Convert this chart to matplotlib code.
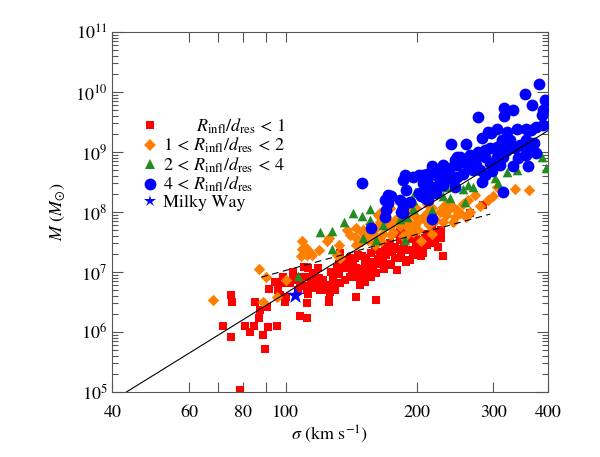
import matplotlib as mpl

mpl.use('Agg')

import matplotlib.pyplot as plt
import numpy as np
from matplotlib.ticker import FixedLocator, FixedFormatter, LogFormatterMathtext, NullFormatter
from matplotlib.lines import Line2D

# (sigma [km/s], log10 M [Msun])
red_pts = [
    (75, 6.62), (75.5, 6.50), (72, 6.10), (75, 5.91), (78.6, 5.03), (80.7, 6.10),
    (82.9, 6.00), (84.7, 6.10), (85.1, 6.50), (87, 6.23), (87.4, 6.37), (88.6, 5.95),
    (89.8, 5.72), (90.6, 6.42), (91, 6.09), (91.8, 6.71), (95.5, 6.10), (94.6, 6.84),
    (96.2, 6.70), (97.2, 6.62), (98.9, 6.92), (99.8, 6.50), (100.5, 6.59), (98, 6.81),
    (102.4, 6.81), (104, 6.87), (104, 7.00), (106.8, 6.70), (108, 6.81), (108, 6.27),
    (111.8, 6.48), (111, 6.92), (110, 7.09), (111.8, 6.23), (112.6, 6.64), (113.8, 6.76),
    (114.7, 6.87), (118.6, 6.73), (120, 6.70), (122, 6.81), (124.5, 6.70), (115.6, 6.98),
    (118.6, 7.06), (119.3, 6.90), (125.5, 6.50), (106.8, 6.92), (112.6, 7.06),
    (109, 6.76), (111.8, 6.70), (116.9, 6.73), (119.3, 6.84), (122, 6.87), (124.5, 6.78),
    (126.5, 6.67), (128.6, 6.84), (128.6, 6.95), (131, 7.06), (132.6, 7.14), (135, 7.09),
    (138.5, 7.06), (140.5, 7.14), (141.8, 7.00), (145.3, 7.06), (144.3, 6.92), (148.2, 6.98),
    (150.7, 6.87), (152, 6.84), (148.2, 6.78), (144.3, 7.23), (146.8, 7.28), (149.5, 7.26),
    (152, 7.14), (153.4, 7.23), (156, 7.17), (158.5, 7.09), (161.6, 6.98), (157.4, 7.31),
    (160.4, 7.37), (164.7, 7.34), (169, 7.42), (172, 7.37), (173.6, 7.48), (178.3, 7.42),
    (180, 7.64), (183, 7.53), (184.5, 7.31), (189.5, 7.37), (194.5, 7.37), (196, 7.28),
    (199.5, 7.45), (203, 7.39), (207, 7.31), (211, 7.48), (211, 7.64), (201, 7.53),
    (193, 7.20), (180, 7.03), (167.5, 7.20), (164.7, 7.14), (172, 7.14), (140.5, 6.92),
    (137, 6.87), (133.3, 6.81), (130, 6.70), (125.5, 6.53), (145.3, 6.59), (161.6, 6.53),
    (133.3, 7.31), (140.5, 7.23),
    (167.5, 7.31), (178.3, 7.23), (183, 7.23), (189.5, 7.17), (178.3, 7.39), (184.5, 7.39),
    (183, 7.64), (199.5, 7.37), (207, 7.34), (211, 7.45), (214, 7.48), (209, 7.56),
    (205, 7.26), (216, 7.59), (228, 7.59), (228, 7.70), (230, 7.26), (265, 7.98),
    (284, 8.12), (183, 7.67), (189.5, 7.20), (203, 7.48), (216, 7.48), (222, 7.67),
    (228, 7.56), (217, 7.73), (196, 7.62), (189.5, 7.67), (228, 7.64), (212, 7.51),
    (136, 7.20), (143, 7.12), (150, 7.05), (155, 7.00), (163, 7.22), (170, 7.28),
    (176, 7.33), (187, 7.47), (193, 7.55), (199, 7.60), (220, 7.55), (224, 7.42),
    (117, 6.95), (127, 7.00), (133, 6.96), (157, 6.92), (168, 7.05), (175, 7.12),
]

orange_pts = [
    (68.3, 6.53), (87, 7.05), (90, 6.91), (89, 6.50), (100.5, 6.87), (95.5, 6.59),
    (108.5, 7.26), (111, 7.42), (115, 7.28), (119.3, 7.37), (124.5, 7.51), (132.6, 7.45),
    (131, 7.28), (109, 7.51), (112.6, 7.37), (125.5, 7.56), (133.3, 7.23), (138.5, 7.70),
    (140.5, 7.62), (145.3, 7.73), (150.7, 7.70), (152, 7.62), (162.8, 7.95), (164.7, 7.84),
    (170.5, 7.92), (173.6, 7.76), (178.3, 7.87), (158.5, 7.53), (175, 7.62), (109, 7.39),
    (111.8, 7.28), (144.3, 7.59), (149.5, 7.67), (149.5, 7.51), (145.3, 7.45), (154.7, 7.53),
    (158.5, 7.64), (161.6, 7.73), (164.7, 7.59), (167.5, 7.64), (169, 7.76), (173.6, 7.81),
    (176.4, 7.67), (180, 7.87), (183, 7.76), (186.2, 7.89), (191, 7.73), (193, 7.81),
    (196, 7.67), (203, 7.87), (207, 7.92), (211, 7.98), (205, 7.51), (160.4, 7.45),
    (272, 8.28), (291, 8.20), (299, 8.26), (305, 8.42), (336, 8.38), (362, 8.36),
    (255, 8.14), (260, 7.92), (265, 8.00), (251, 7.98), (245, 7.92), (238, 8.06),
    (230, 8.09), (234, 7.95), (226, 8.00), (217, 8.06), (222, 7.87), (242, 7.84),
    (230, 7.84), (209, 7.87), (199.5, 7.92), (198, 7.78), (201, 7.70), (189.5, 7.62),
    (196, 8.06), (217, 7.64), (164.7, 7.98), (173.6, 8.06), (193, 8.00), (199.5, 8.06),
    (211, 8.14), (234, 8.14), (242, 8.09), (166, 7.51), (189.5, 7.78),
    (156, 7.80), (186, 7.60), (213, 7.78), (248, 8.03), (280, 8.10), (263, 8.20),
]

green_pts = [
    (106.8, 6.93), (128, 7.38), (119.8, 7.67), (128, 7.68), (136.4, 7.83), (143, 7.99),
    (150, 7.93), (156, 8.05), (156, 7.86), (150.7, 7.56), (161.6, 7.53), (167.5, 7.78),
    (188, 7.54), (183, 7.89), (196, 8.05), (196, 8.20), (209, 8.48), (230, 8.26),
    (238, 8.23), (234, 8.42), (238, 8.50), (258, 8.17), (255, 8.38), (262, 8.45),
    (269, 8.41), (289, 8.64), (302, 8.56), (307, 8.48), (323, 8.66), (340, 8.70),
    (387, 8.91), (396, 8.73), (217, 8.03), (198, 8.34), (190, 7.91), (210, 8.50),
]

blue_pts = [
    (149.5, 8.48), (188, 8.62), (186, 8.53), (189, 8.37), (172, 8.28), (175, 8.26),
    (169, 8.20), (172, 8.15), (170.5, 8.03), (169, 7.92), (183, 8.20), (186, 8.09),
    (193, 8.17), (184.5, 8.00), (207, 8.62), (211, 8.64), (157.4, 7.73), (205, 8.26),
    (212, 8.20), (186, 8.15), (196, 8.59), (203, 8.62), (211, 8.53), (207, 8.48),
    (211, 8.37), (203, 8.31), (209, 8.23), (217, 8.42), (222, 8.31), (230, 8.45),
    (234, 8.67), (238, 8.73), (245, 8.87), (248, 8.78), (251, 8.92), (260, 8.84),
    (265, 8.95), (272, 8.89), (274, 8.78), (279, 8.70), (283, 8.50), (287, 8.62),
    (294, 8.81), (305, 8.92), (310, 8.78), (269, 8.70), (255, 8.64), (247, 8.59),
    (245, 8.42), (238, 8.56), (224, 8.70), (217, 8.76), (230, 8.78), (222, 8.62),
    (333, 8.76), (360, 8.76), (357, 8.95), (376, 8.98), (315, 8.34), (217, 7.89),
    (382, 10.14), (355, 9.97), (367, 9.78), (394, 9.87), (391, 9.70), (387, 9.62),
    (317, 9.73), (333, 9.70), (318, 9.60), (276, 9.58), (240, 9.14), (260, 9.13),
    (283, 9.23), (291, 9.34), (297, 9.31), (305, 9.39), (322, 9.34), (340, 9.39),
    (327, 9.20), (314, 9.20), (305, 9.09), (294, 9.06), (287, 9.03), (357, 9.39),
    (366, 9.37), (376, 9.42), (391, 9.45), (357, 9.20), (345, 9.12), (364, 9.06),
    (354, 8.95), (247, 8.92), (255, 8.89), (268, 8.87), (277, 9.00), (287, 8.92),
    (310, 9.03), (322, 9.03), (336, 9.06), (315, 8.92), (405, 9.85), (410, 9.45),
    (186, 7.98), (226, 8.52), (262, 8.76), (298, 8.68), (342, 8.90), (372, 9.15),
]

milky_way = (105, 6.62)

# M-sigma fit (solid) and resolution limit (dashed)
fit_logm0, fit_slope, fit_sigma0 = 8.0, 4.5, 200.0
res_logm0, res_slope, res_sigma0 = 7.0, 2.0, 97.0
res_range = (88, 295)

labels = [r"$\qquad\;\; R_{\rm infl}/d_{\rm res}\, <\, 1$",
          r"$1\, <\, R_{\rm infl}/d_{\rm res}\, <\, 2$",
          r"$2\, <\, R_{\rm infl}/d_{\rm res}\, <\, 4$",
          r"$4\, <\, R_{\rm infl}/d_{\rm res}$",
          "Milky Way"]

x_major = [40, 60, 80, 100, 200, 300, 400]
x_minor = [70, 90]
y_major = [1e5, 1e6, 1e7, 1e8, 1e9, 1e10, 1e11]


def split(pts):
    s, m = zip(*pts)
    return np.array(s), 10 ** np.array(m)


def main():
    plt.rcParams['font.family'] = ['STIXGeneral', 'DejaVu Serif']
    plt.rcParams['mathtext.fontset'] = 'stix'
    plt.rcParams['font.size'] = 13

    fig = plt.figure(figsize=(6.0, 4.57), dpi=100)
    ax = fig.add_axes([0.187, 0.142, 0.726, 0.788])

    red, orange, green, blue = '#ff0000', '#ff8000', '#228b22', '#0000ff'

    s, m = split(red_pts)
    ax.scatter(s, m, marker='s', s=34, color=red, linewidths=0, zorder=2)
    s, m = split(orange_pts)
    ax.scatter(s, m, marker='D', s=34, color=orange, linewidths=0, zorder=3)
    s, m = split(green_pts)
    ax.scatter(s, m, marker='^', s=48, color=green, linewidths=0, zorder=4)
    s, m = split(blue_pts)
    ax.scatter(s, m, marker='o', s=72, color=blue, linewidths=0, zorder=5)
    ax.scatter([milky_way[0]], [10 ** milky_way[1]], marker='*', s=170,
               color=blue, linewidths=0, zorder=6)

    sig = np.logspace(np.log10(40), np.log10(400), 200)
    ax.plot(sig, 10 ** (fit_logm0 + fit_slope * np.log10(sig / fit_sigma0)),
            color='k', lw=0.8, zorder=7)
    sig = np.logspace(np.log10(res_range[0]), np.log10(res_range[1]), 100)
    ax.plot(sig, 10 ** (res_logm0 + res_slope * np.log10(sig / res_sigma0)),
            color='k', lw=0.8, ls=(0, (6, 4)), zorder=7)

    ax.set_xscale('log')
    ax.set_yscale('log')
    ax.set_xlim(40, 400)
    ax.set_ylim(1e5, 1e11)

    ax.xaxis.set_major_locator(FixedLocator(x_major))
    ax.xaxis.set_major_formatter(FixedFormatter([str(v) for v in x_major]))
    ax.xaxis.set_minor_locator(FixedLocator(x_minor))
    ax.xaxis.set_minor_formatter(NullFormatter())
    ax.yaxis.set_major_locator(FixedLocator(y_major))
    ax.yaxis.set_major_formatter(LogFormatterMathtext())
    y_minor = [k * d for d in y_major[:-1] for k in range(2, 10)]
    ax.yaxis.set_minor_locator(FixedLocator(y_minor))
    ax.yaxis.set_minor_formatter(NullFormatter())

    ax.tick_params(which='both', direction='in', top=True, right=True,
                   color='#555555', labelsize=13)
    ax.tick_params(axis='x', which='both', length=7, width=0.8, pad=9)
    ax.tick_params(axis='y', which='major', length=8, width=0.8)
    ax.tick_params(axis='y', which='minor', length=4, width=0.8)
    for sp in ax.spines.values():
        sp.set_color('#555555')
        sp.set_linewidth(0.8)

    ax.set_xlabel(r"$\sigma$ (km s$^{-1}$)", fontsize=13, labelpad=2)
    ax.set_ylabel(r"$M$ ($M_{\odot}$)", fontsize=13, labelpad=6)

    handles = [
        Line2D([], [], ls='', marker='s', ms=6, color=red, mew=0),
        Line2D([], [], ls='', marker='D', ms=6, color=orange, mew=0),
        Line2D([], [], ls='', marker='^', ms=7, color=green, mew=0),
        Line2D([], [], ls='', marker='o', ms=8.5, color=blue, mew=0),
        Line2D([], [], ls='', marker='*', ms=9, color=blue, mew=0),
    ]
    ax.legend(handles, labels, loc='upper left', bbox_to_anchor=(0.042, 0.79),
              frameon=False, fontsize=13, labelspacing=0.0, handletextpad=0.1,
              handlelength=1.2, borderpad=0)

    fig.savefig('out.png', dpi=100)


if __name__ == '__main__':
    main()
